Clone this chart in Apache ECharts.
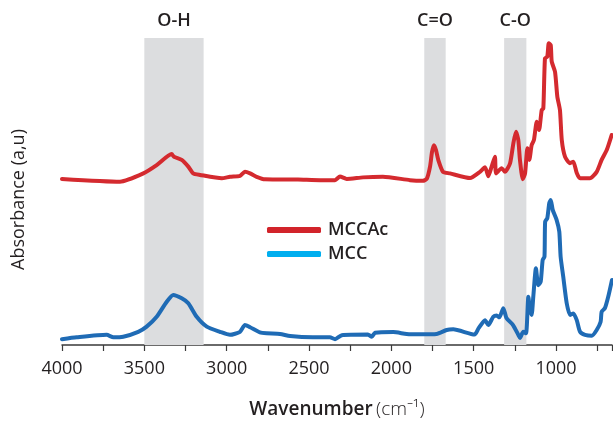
<!DOCTYPE html>
<html><head><meta charset="utf-8">
<script src="https://cdn.jsdelivr.net/npm/echarts@6/dist/echarts.min.js"></script>
<style>html,body{margin:0;padding:0;background:#fff}#c{width:613px;height:421px}</style>
</head><body><div id="c"></div>
<script>
// Wavenumber (cm-1) and absorbance (a.u., arbitrary offset scale)
const wnMCCAc = [4000,3648,3506,3425,3334,3320,3273,3233,3203,3162,3030,2980,2919,2889,2858,2818,2767,2567,2433,2342,2312,2271,2172,2051,1887,1808,1785,1765,1753,1741,1729,1715,1686,1644,1522,1462,1431,1411,1391,1371,1364,1330,1310,1279,1259,1243,1229,1219,1202,1188,1174,1162,1148,1134,1117,1103,1087,1077,1067,1053,1044,1032,1026,1006,992,976,965,945,915,895,874,854,794,753,723,692,662];
const absMCCAc = [54.1,53.2,55.9,58.6,62.2,61.3,60.3,58.1,55.9,55.4,54.3,54.8,55.1,56.4,55.9,54.8,54.0,53.9,53.7,53.7,54.9,54.1,54.6,54.8,53.7,53.5,54.1,58.1,62.9,65.1,63.5,60.3,56.4,55.9,54.4,56.4,57.9,55.0,58.1,61.3,55.9,57.6,56.4,59.2,65.7,69.5,66.8,60.3,54.0,55.9,64.1,60.3,65.1,66.8,72.7,70.0,76.5,77.1,93.4,93.9,98.3,97.7,92.3,89.0,80.9,76.5,66.8,61.3,59.2,59.7,56.0,54.3,54.3,56.4,60.3,63.5,68.4];

const wnMCC = [4000,3911,3729,3688,3628,3537,3486,3425,3364,3324,3273,3233,3182,3121,3041,2980,2919,2889,2858,2798,2757,2676,2615,2476,2373,2342,2301,2142,2119,2099,1988,1907,1826,1725,1664,1624,1495,1470,1431,1411,1381,1360,1344,1320,1301,1261,1229,1219,1199,1182,1168,1158,1148,1138,1122,1108,1093,1081,1070,1066,1053,1041,1032,1020,996,980,972,956,935,915,895,874,854,824,783,753,729,723,703,683,660];
const absMCC = [1.9,2.5,3.3,2.5,2.7,4.3,6.0,9.2,14.1,16.3,15.2,13.6,9.2,6.0,4.3,3.3,4.3,6.5,5.8,4.1,3.8,3.6,2.9,2.5,2.5,1.9,3.2,3.4,2.7,4.0,4.2,3.6,3.5,3.6,4.9,5.1,3.4,5.5,8.1,6.5,9.2,9.6,9.0,12.0,8.8,6.5,3.3,2.3,4.3,3.8,15.7,11.4,9.8,15.7,25.0,19.5,20.6,27.7,28.8,40.2,41.3,46.2,47.2,44.0,40.7,36.9,28.8,22.2,13.6,9.8,10.3,8.1,4.3,3.3,3.0,4.9,7.6,10.8,12.0,15.7,21.2];

const xTickLabels = [4000,3500,3000,2500,2000,1500,1000];
const xTickMarks = [4000,3750,3500,3250,3000,2750,2500,2250,2000,1750,1500,1250,1000,750,660];
const bandNames = ['O-H','C=O','C-O'];
const bandFrom = [3500,1800,1315];
const bandTo = [3140,1670,1180];

const zip = (a,b)=>a.map((v,i)=>[v,b[i]]);
const font = '"Open Sans", "Noto Sans", sans-serif';
const chart = echarts.init(document.getElementById('c'), null, {renderer:'canvas'});
chart.setOption({
  animation:false,
  backgroundColor:'#fff',
  grid:{left:62,right:1,top:38,bottom:76,containLabel:false,outerBoundsMode:'none'},
  xAxis:{type:'value',inverse:true,min:660,max:4000,
    name:'{b|Wavenumber} {n|(cm⁻¹)}',nameLocation:'middle',nameGap:55,
    nameTextStyle:{rich:{b:{fontFamily:font,fontSize:19,fontWeight:600,color:'#231f20'},n:{fontFamily:font,fontSize:19,fontWeight:300,color:'#231f20'}}},
    axisLine:{show:true,onZero:false,lineStyle:{color:'#3a3a3a',width:1.5}},
    axisTick:{show:true,length:6,customValues:xTickMarks,lineStyle:{color:'#3a3a3a',width:1.2}},
    axisLabel:{customValues:xTickLabels,formatter:v=>String(v),fontFamily:font,fontSize:18,color:'#231f20',margin:15},
    splitLine:{show:false}},
  yAxis:{type:'value',min:0,max:100,
    name:'Absorbance (a,u)',nameLocation:'middle',nameGap:34,
    nameTextStyle:{fontFamily:font,fontSize:18,color:'#231f20',padding:[0,16,0,0]},
    axisLine:{show:false},axisTick:{show:false},axisLabel:{show:false},splitLine:{show:false}},
  legend:{orient:'vertical',left:262,top:216,itemWidth:54,itemHeight:6,itemGap:6,icon:'roundRect',
    textStyle:{fontFamily:font,fontSize:18,fontWeight:600,color:'#231f20',padding:[0,0,0,2]},
    data:[{name:'MCCAc',itemStyle:{color:'#d2232a'},lineStyle:{color:'#d2232a'}},
          {name:'MCC',itemStyle:{color:'#00aeef'},lineStyle:{color:'#00aeef'}}]},
  series:[
    {name:'MCCAc',type:'line',data:zip(wnMCCAc,absMCCAc),showSymbol:false,smooth:0.2,z:3,
      itemStyle:{color:'#d2232a'},lineStyle:{color:'#d42a2f',width:4,cap:'round',join:'round'},
      markArea:{silent:true,itemStyle:{color:'#dcdddf'},
        label:{show:true,position:'top',distance:8,fontFamily:font,fontSize:18,fontWeight:600,color:'#231f20'},
        data:bandNames.map((n,i)=>[{name:n,xAxis:bandFrom[i]},{xAxis:bandTo[i]}])}},
    {name:'MCC',type:'line',data:zip(wnMCC,absMCC),showSymbol:false,smooth:0.2,z:3,
      itemStyle:{color:'#00aeef'},lineStyle:{color:'#1f6bb5',width:4,cap:'round',join:'round'}}
  ]
});
</script></body></html>
